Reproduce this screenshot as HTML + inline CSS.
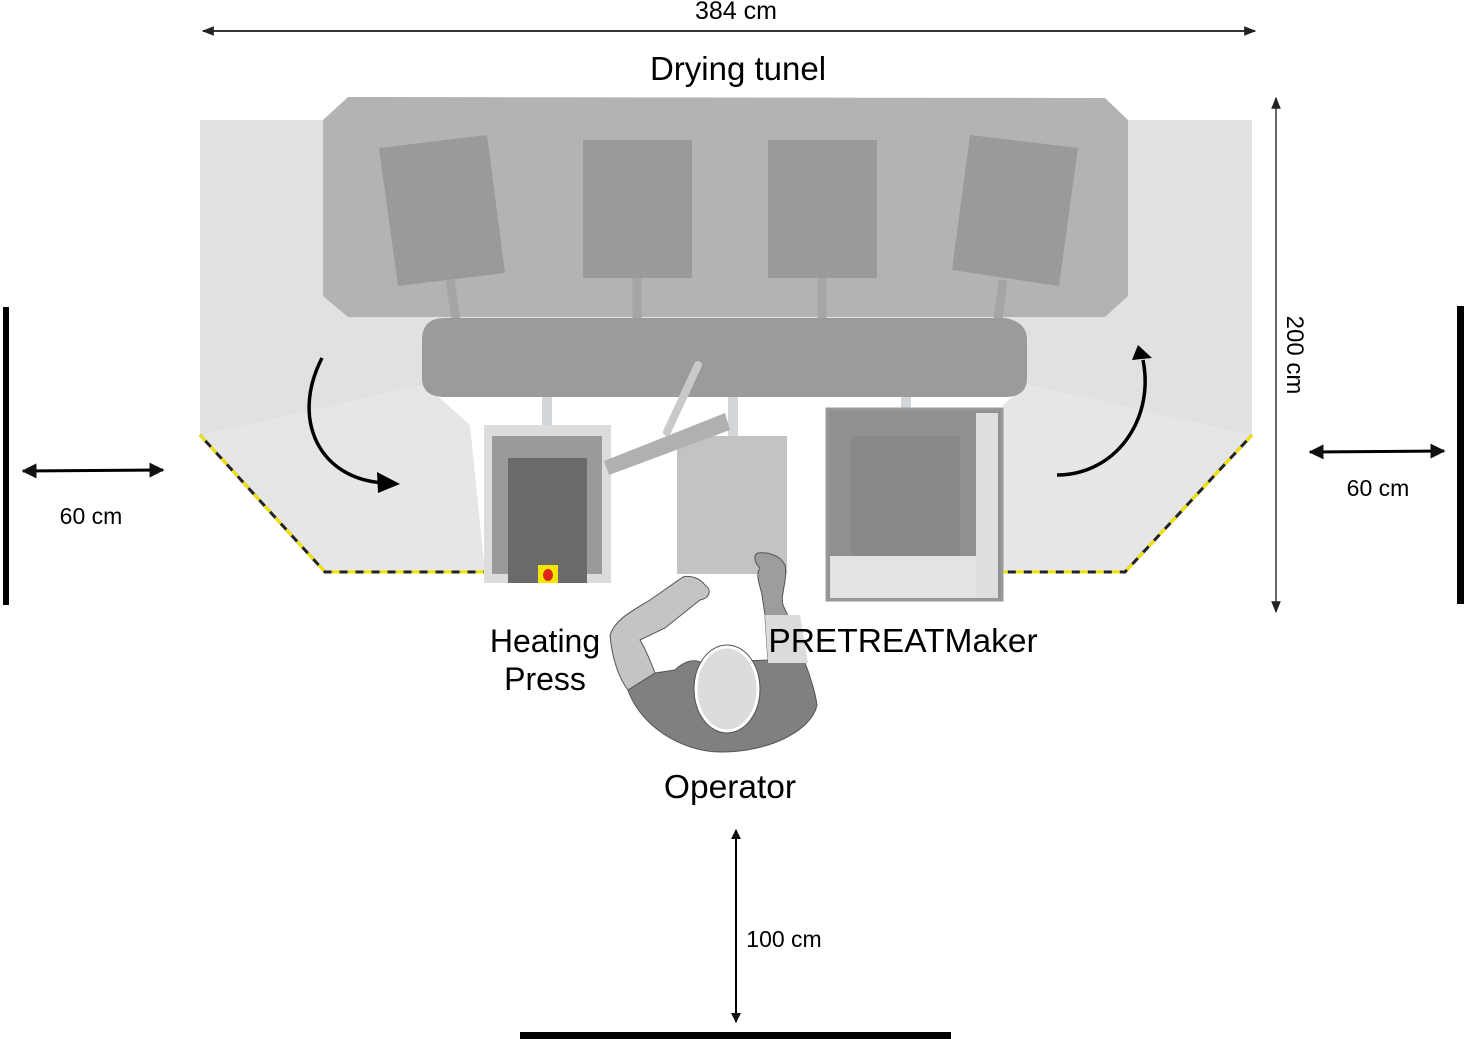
<!DOCTYPE html>
<html><head><meta charset="utf-8"><style>
html,body{margin:0;padding:0;background:#fff;width:1466px;height:1039px;overflow:hidden}
svg{display:block}
text{font-family:"Liberation Sans",Arial,sans-serif;fill:#000}
</style></head><body>
<svg width="1466" height="1039" viewBox="0 0 1466 1039" xmlns="http://www.w3.org/2000/svg">
<defs>
<marker id="ah" viewBox="0 0 10 10" refX="9" refY="5" markerWidth="5" markerHeight="5" orient="auto-start-reverse"><path d="M0,0 L10,5 L0,10 z" fill="#111"/></marker>
<marker id="ahs" viewBox="0 0 10 10" refX="9" refY="5" markerWidth="12" markerHeight="12" orient="auto-start-reverse" markerUnits="userSpaceOnUse"><path d="M0,1 L10,5 L0,9 z" fill="#222"/></marker>
</defs>
<!-- floor -->
<polygon points="200,120 1252,120 1252,435 1125,572 1003,572 1003,405 1030,382 422,382 470,425 485,572 325,572 200,435" fill="#e6e6e6"/>
<polygon points="200,120 1252,120 1252,435 1030,385 422,385 200,435" fill="#e0e1e3"/>
<polyline points="200,435 325,572 485,572" fill="none" stroke="#222" stroke-width="3"/>
<polyline points="200,435 325,572 485,572" fill="none" stroke="#f2e400" stroke-width="3" stroke-dasharray="8 8"/>
<polyline points="1252,435 1125,572 1003,572" fill="none" stroke="#222" stroke-width="3"/>
<polyline points="1252,435 1125,572 1003,572" fill="none" stroke="#f2e400" stroke-width="3" stroke-dasharray="8 8"/>
<!-- tunnel -->
<polygon points="348,97 1105,98 1128,120 1128,296 1105,317 348,317 323,296 323,120" fill="#b3b3b3"/>
<g fill="#9a9a9a">
<polygon points="379,148 487,135 505,273 398,286"/>
<rect x="583" y="140" width="109" height="138"/>
<rect x="768" y="140" width="109" height="138"/>
<polygon points="970,135 1078,148 1059,286 952,270"/>
</g>
<g stroke="#a3a5a7" stroke-width="9">
<line x1="450" y1="280" x2="456" y2="320"/><line x1="637" y1="278" x2="637" y2="320"/>
<line x1="822" y1="278" x2="822" y2="320"/><line x1="1003" y1="280" x2="998" y2="320"/>
</g>
<path d="M445,318 L1005,318 Q1027,322 1027,340 L1027,378 Q1027,397 1005,397 L445,397 Q422,397 422,378 L422,340 Q422,318 445,318 Z" fill="#9b9b9b"/>
<!-- connectors down -->
<g stroke="#d3d6d9" stroke-width="10">
<line x1="547" y1="397" x2="547" y2="436"/><line x1="733" y1="397" x2="733" y2="436"/><line x1="906" y1="397" x2="906" y2="436"/>
</g>
<!-- heating press -->
<rect x="484" y="425" width="127" height="158" fill="#dcdcdc"/>
<rect x="492" y="436" width="110" height="138" fill="#9a9a9a"/>
<rect x="508" y="458" width="79" height="125" fill="#6a6a6a"/>
<rect x="538" y="565" width="20" height="18" fill="#f4e600"/>
<ellipse cx="548" cy="575" rx="5" ry="6" fill="#e0251b"/>
<line x1="698" y1="365" x2="667" y2="432" stroke="#c9c9c9" stroke-width="8" stroke-linecap="round"/>
<!-- table -->
<rect x="677" y="436" width="110" height="138" fill="#c3c3c3"/>
<polygon points="604,461 725,413 730,430 609,475" fill="#b0b0b0"/>
<!-- pretreat -->
<rect x="827" y="409" width="175" height="191" fill="#909090" stroke="#999" stroke-width="3"/>
<rect x="851" y="436" width="109" height="121" fill="#898989"/>
<rect x="976" y="413" width="22" height="185" fill="#dedede"/>
<rect x="830" y="556" width="146" height="42" fill="#e3e3e3"/>
<!-- person -->
<path d="M628,690 C640,725 680,752 722,752 C770,752 812,730 817,705 C815,690 808,670 802,655 L770,660 L700,662 C690,658 680,665 675,670 L655,673 Z" fill="#808080" stroke="#555" stroke-width="1"/>
<path d="M628,690 L655,673 C650,660 645,648 640,640 L665,628 C675,620 690,608 700,600 C710,598 712,590 705,585 C700,578 690,575 683,577 L650,600 C630,612 615,620 610,635 C612,660 620,680 628,690 Z" fill="#c4c4c4" stroke="#555" stroke-width="1"/>
<path d="M768,662 L805,660 C798,640 790,620 783,605 C780,595 788,580 785,565 C780,555 768,552 758,553 C752,555 756,565 760,568 C755,575 760,585 762,595 L765,615 Z" fill="#9d9d9d" stroke="#555" stroke-width="1"/>
<path d="M768,663 L808,663 L800,615 L765,615 Z" fill="#dcdcdc"/>
<ellipse cx="727" cy="689" rx="31" ry="42" fill="#dcdcdc" stroke="#fff" stroke-width="3"/>
<ellipse cx="727" cy="689" rx="33" ry="44" fill="none" stroke="#555" stroke-width="1"/>
<!-- curved arrows -->
<path d="M322,358 C290,420 320,480 385,483" fill="none" stroke="#000" stroke-width="3.5"/>
<polygon points="377,472 400,484 378,493" fill="#000"/>
<path d="M1057,475 C1115,475 1155,420 1143,360" fill="none" stroke="#000" stroke-width="3.5"/>
<polygon points="1132,360 1138,345 1152,358" fill="#000"/>
<!-- dimension lines -->
<line x1="203" y1="31" x2="1255" y2="31" stroke="#333" stroke-width="2" marker-start="url(#ahs)" marker-end="url(#ahs)"/>
<line x1="1276" y1="98" x2="1276" y2="612" stroke="#333" stroke-width="1.5" marker-start="url(#ahs)" marker-end="url(#ahs)"/>
<line x1="23" y1="471" x2="163" y2="470" stroke="#000" stroke-width="3" marker-start="url(#ah)" marker-end="url(#ah)"/>
<line x1="1310" y1="452" x2="1444" y2="451" stroke="#000" stroke-width="3" marker-start="url(#ah)" marker-end="url(#ah)"/>
<line x1="736" y1="830" x2="736" y2="1022" stroke="#000" stroke-width="2" marker-start="url(#ah)" marker-end="url(#ah)"/>
<!-- walls -->
<rect x="3" y="307" width="6" height="298" fill="#000"/>
<rect x="1457" y="306" width="7" height="298" fill="#000"/>
<rect x="520" y="1032" width="431" height="7" fill="#000"/>
<!-- labels -->
<text x="736" y="19" font-size="25" text-anchor="middle">384 cm</text>
<text x="738" y="80" font-size="33" text-anchor="middle">Drying tunel</text>
<text x="1287" y="355" font-size="24" text-anchor="middle" transform="rotate(90 1287 355)">200 cm</text>
<text x="91" y="524" font-size="23" text-anchor="middle">60 cm</text>
<text x="1378" y="496" font-size="23" text-anchor="middle">60 cm</text>
<text x="545" y="652" font-size="32" text-anchor="middle">Heating</text>
<text x="545" y="690" font-size="32" text-anchor="middle">Press</text>
<text x="903" y="652" font-size="33.5" text-anchor="middle">PRETREATMaker</text>
<text x="730" y="798" font-size="33.5" text-anchor="middle">Operator</text>
<text x="784" y="947" font-size="23" text-anchor="middle">100 cm</text>
</svg>
</body></html>
